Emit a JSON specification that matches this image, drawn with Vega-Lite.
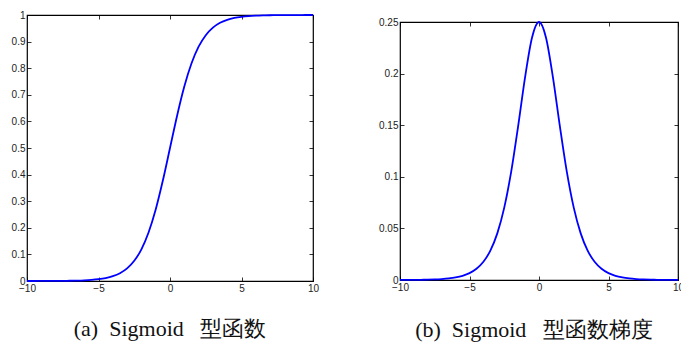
{
  "$schema": "https://vega.github.io/schema/vega-lite/v6.json",
  "background": "white",
  "padding": {"left": 7, "top": 9, "right": 0, "bottom": 0},
  "spacing": 57,
  "config": {
    "view": {"stroke": "black", "strokeWidth": 1.2},
    "font": "Liberation Sans",
    "axis": {
      "domain": false, "grid": false, "title": null,
      "tickColor": "black", "tickWidth": 0.8, "tickSize": 4, "offset": -4,
      "labelFont": "Liberation Sans", "labelFontSize": 10, "labelColor": "#222",
      "labelFlush": false, "labelOverlap": false, "labelPadding": 2
    }
  },
  "datasets": {
    "sig": [
      {"x": -10, "s": 0.0000454, "d": 0.0000454},
      {"x": -9.5, "s": 0.0000748, "d": 0.0000748},
      {"x": -9, "s": 0.0001234, "d": 0.0001234},
      {"x": -8.5, "s": 0.0002034, "d": 0.0002034},
      {"x": -8, "s": 0.0003354, "d": 0.0003352},
      {"x": -7.5, "s": 0.0005528, "d": 0.0005525},
      {"x": -7, "s": 0.000911, "d": 0.0009102},
      {"x": -6.5, "s": 0.0015011, "d": 0.0014988},
      {"x": -6, "s": 0.0024726, "d": 0.0024665},
      {"x": -5.5, "s": 0.0040701, "d": 0.0040536},
      {"x": -5, "s": 0.0066929, "d": 0.0066481},
      {"x": -4.5, "s": 0.0109869, "d": 0.0108662},
      {"x": -4, "s": 0.0179862, "d": 0.0176627},
      {"x": -3.5, "s": 0.0293122, "d": 0.028453},
      {"x": -3, "s": 0.0474259, "d": 0.0451767},
      {"x": -2.5, "s": 0.0758582, "d": 0.0701037},
      {"x": -2, "s": 0.1192029, "d": 0.1049936},
      {"x": -1.5, "s": 0.1824255, "d": 0.1491465},
      {"x": -1, "s": 0.2689414, "d": 0.1966119},
      {"x": -0.5, "s": 0.3775407, "d": 0.2350037},
      {"x": 0, "s": 0.5, "d": 0.25},
      {"x": 0.5, "s": 0.6224593, "d": 0.2350037},
      {"x": 1, "s": 0.7310586, "d": 0.1966119},
      {"x": 1.5, "s": 0.8175745, "d": 0.1491465},
      {"x": 2, "s": 0.8807971, "d": 0.1049936},
      {"x": 2.5, "s": 0.9241418, "d": 0.0701037},
      {"x": 3, "s": 0.9525741, "d": 0.0451767},
      {"x": 3.5, "s": 0.9706878, "d": 0.028453},
      {"x": 4, "s": 0.9820138, "d": 0.0176627},
      {"x": 4.5, "s": 0.9890131, "d": 0.0108662},
      {"x": 5, "s": 0.9933071, "d": 0.0066481},
      {"x": 5.5, "s": 0.9959299, "d": 0.0040536},
      {"x": 6, "s": 0.9975274, "d": 0.0024665},
      {"x": 6.5, "s": 0.9984989, "d": 0.0014988},
      {"x": 7, "s": 0.999089, "d": 0.0009102},
      {"x": 7.5, "s": 0.9994472, "d": 0.0005525},
      {"x": 8, "s": 0.9996646, "d": 0.0003352},
      {"x": 8.5, "s": 0.9997966, "d": 0.0002034},
      {"x": 9, "s": 0.9998766, "d": 0.0001234},
      {"x": 9.5, "s": 0.9999252, "d": 0.0000748},
      {"x": 10, "s": 0.9999546, "d": 0.0000454}
    ]
  },
  "hconcat": [
    {
      "width": 286,
      "height": 266,
      "data": {"name": "sig"},
      "title": {"text": "(a)\u00a0 Sigmoid\u00a0 \u00a0型函数", "orient": "bottom", "offset": 26, "anchor": "middle", "font": "Liberation Serif", "fontSize": 22, "fontWeight": "normal", "color": "#111"},
      "layer": [
        {
          "mark": {"type": "line", "color": "#0000ff", "strokeWidth": 1.8, "interpolate": "monotone"},
          "encoding": {
            "x": {"field": "x", "type": "quantitative", "scale": {"domain": [-10, 10], "nice": false, "zero": false},
                  "axis": {"orient": "bottom", "values": [-10, -5, 0, 5, 10]}},
            "y": {"field": "s", "type": "quantitative", "scale": {"domain": [0, 1], "nice": false},
                  "axis": {"orient": "left", "values": [0, 0.1, 0.2, 0.3, 0.4, 0.5, 0.6, 0.7, 0.8, 0.9, 1], "format": "~g", "minExtent": 23, "maxExtent": 23}}
          }
        },
        {
          "mark": {"type": "line", "opacity": 0},
          "encoding": {
            "x": {"field": "x", "type": "quantitative",
                  "axis": {"orient": "top", "values": [-10, -5, 0, 5, 10], "labels": false, "minExtent": 0, "maxExtent": 0}},
            "y": {"field": "s", "type": "quantitative",
                  "axis": {"orient": "right", "values": [0, 0.1, 0.2, 0.3, 0.4, 0.5, 0.6, 0.7, 0.8, 0.9, 1], "labels": false, "minExtent": 0, "maxExtent": 0}}
          }
        }
      ],
      "resolve": {"axis": {"x": "independent", "y": "independent"}}
    },
    {
      "spacing": 0,
      "vconcat": [
        {
          "width": 278,
          "height": 1,
          "view": {"stroke": null},
          "data": {"values": [{"k": 1}]},
          "mark": {"type": "rule", "opacity": 0},
          "encoding": {}
        },
        {
          "width": 278,
          "height": 258,
          "data": {"name": "sig"},
          "title": {"text": "(b)\u00a0 Sigmoid\u00a0 \u00a0型函数梯度", "orient": "bottom", "offset": 28, "anchor": "middle", "dx": -5, "font": "Liberation Serif", "fontSize": 22, "fontWeight": "normal", "color": "#111"},
          "layer": [
            {
              "mark": {"type": "line", "color": "#0000ff", "strokeWidth": 1.8, "interpolate": "monotone"},
              "encoding": {
                "x": {"field": "x", "type": "quantitative", "scale": {"domain": [-10, 10], "nice": false, "zero": false},
                      "axis": {"orient": "bottom", "values": [-10, -5, 0, 5, 10]}},
                "y": {"field": "d", "type": "quantitative", "scale": {"domain": [0, 0.25], "nice": false},
                      "axis": {"orient": "left", "values": [0, 0.05, 0.1, 0.15, 0.2, 0.25], "format": "~g", "minExtent": 23, "maxExtent": 23}}
              }
            },
            {
              "mark": {"type": "line", "opacity": 0},
              "encoding": {
                "x": {"field": "x", "type": "quantitative",
                      "axis": {"orient": "top", "values": [-10, -5, 0, 5, 10], "labels": false, "minExtent": 0, "maxExtent": 0}},
                "y": {"field": "d", "type": "quantitative",
                      "axis": {"orient": "right", "values": [0, 0.05, 0.1, 0.15, 0.2, 0.25], "labels": false, "minExtent": 0, "maxExtent": 0}}
              }
            }
          ],
          "resolve": {"axis": {"x": "independent", "y": "independent"}}
        }
      ]
    }
  ]
}
